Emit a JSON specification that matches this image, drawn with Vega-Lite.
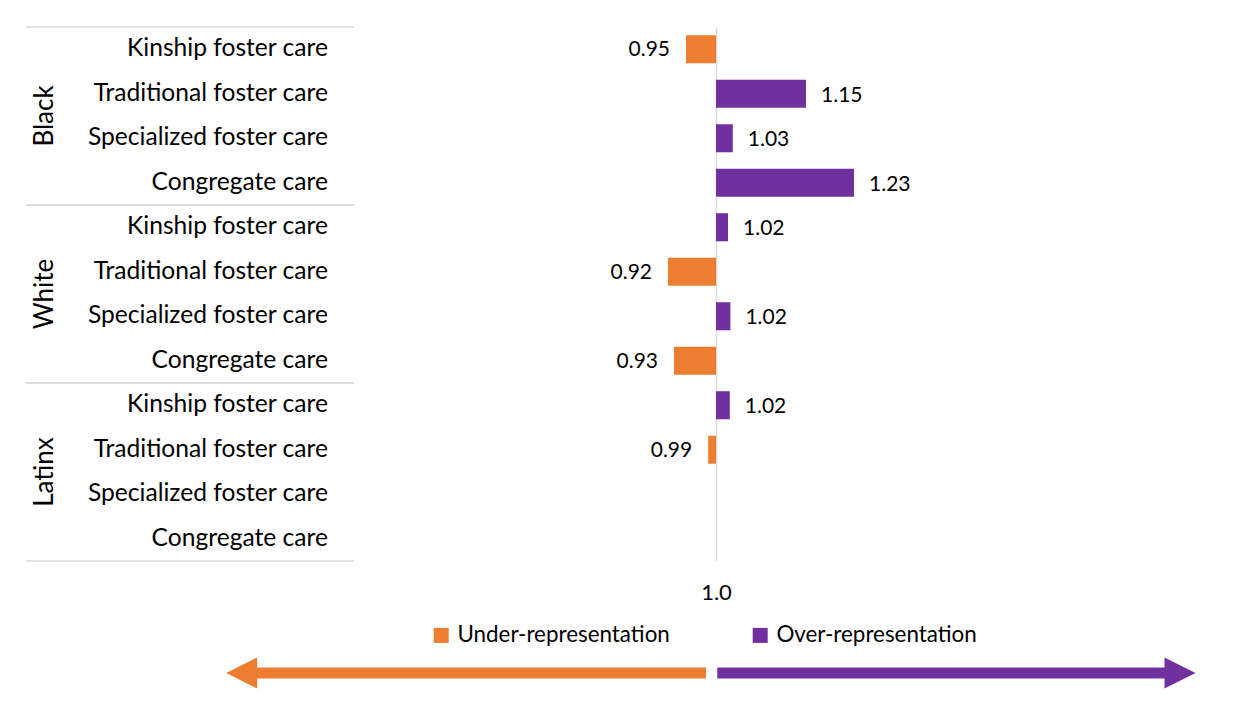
{
  "$schema": "https://vega.github.io/schema/vega-lite/v6.json",
  "padding": {"top": 26, "left": 0, "right": 0, "bottom": 0},
  "background": "white",
  "bounds": "flush",
  "spacing": 92,
  "config": {
    "view": {"stroke": null},
    "font": "Lato"
  },
  "resolve": {"scale": {"color": "shared"}, "legend": {"color": "shared"}},
  "datasets": {
    "rows": [
      {"group": "Black", "category": "Kinship foster care", "value": 0.95, "direction": "Under-representation"},
      {"group": "Black", "category": "Traditional foster care", "value": 1.15, "direction": "Over-representation"},
      {"group": "Black", "category": "Specialized foster care", "value": 1.028, "direction": "Over-representation"},
      {"group": "Black", "category": "Congregate care", "value": 1.23, "direction": "Over-representation"},
      {"group": "White", "category": "Kinship foster care", "value": 1.02, "direction": "Over-representation"},
      {"group": "White", "category": "Traditional foster care", "value": 0.92, "direction": "Under-representation"},
      {"group": "White", "category": "Specialized foster care", "value": 1.024, "direction": "Over-representation"},
      {"group": "White", "category": "Congregate care", "value": 0.93, "direction": "Under-representation"},
      {"group": "Latinx", "category": "Kinship foster care", "value": 1.023, "direction": "Over-representation"},
      {"group": "Latinx", "category": "Traditional foster care", "value": 0.987, "direction": "Under-representation"},
      {"group": "Latinx", "category": "Specialized foster care", "value": null, "direction": null},
      {"group": "Latinx", "category": "Congregate care", "value": null, "direction": null}
    ],
    "arrows": [
      {"arrow": "Under-representation"},
      {"arrow": "Over-representation"}
    ]
  },
  "vconcat": [
    {
      "width": 1253,
      "height": 534,
      "data": {"name": "rows"},
      "transform": [{"calculate": "datum.group + '|' + datum.category", "as": "key"}],
      "encoding": {
        "y": {"field": "key", "type": "nominal", "sort": null, "scale": {"paddingInner": 0, "paddingOuter": 0}, "axis": null}
      },
      "layer": [
        {
          "transform": [{"filter": "isValid(datum.value)"}],
          "mark": {"type": "bar", "height": {"band": 0.63}},
          "encoding": {
            "x": {
              "field": "value", "type": "quantitative", "title": null,
              "scale": {"domain": [-0.19333, 1.895], "nice": false, "zero": false},
              "axis": {"values": [1], "format": ".1f", "grid": true, "gridColor": "#d9d9d9", "gridWidth": 1.5, "domain": false, "ticks": false, "tickSize": 0, "labelPadding": 21, "labelFontSize": 22, "labelFont": "Lato", "labelColor": "#000000", "title": null}
            },
            "x2": {"datum": 1},
            "color": {
              "field": "direction", "type": "nominal",
              "scale": {"domain": ["Under-representation", "Over-representation"], "range": ["#ED7D31", "#7030A0"]},
              "legend": {"orient": "none", "legendX": 430, "legendY": 597, "direction": "horizontal", "title": null, "symbolType": "square", "symbolSize": 225, "symbolStrokeWidth": 0, "labelFontSize": 22.4, "labelFont": "Lato", "labelColor": "#000000", "labelOffset": 5, "labelLimit": 400, "columnPadding": 79}
            }
          }
        },
        {
          "transform": [{"filter": "isValid(datum.value) && datum.value < 1"}],
          "mark": {"type": "text", "align": "right", "baseline": "middle", "dx": -16, "dy": 1, "fontSize": 21, "color": "#000000"},
          "encoding": {
            "x": {"field": "value", "type": "quantitative"},
            "text": {"field": "value", "type": "quantitative", "format": ".2f"}
          }
        },
        {
          "transform": [{"filter": "isValid(datum.value) && datum.value >= 1"}],
          "mark": {"type": "text", "align": "left", "baseline": "middle", "dx": 15, "dy": 2, "fontSize": 21, "color": "#000000"},
          "encoding": {
            "x": {"field": "value", "type": "quantitative"},
            "text": {"field": "value", "type": "quantitative", "format": ".2f"}
          }
        },
        {
          "mark": {"type": "text", "align": "right", "baseline": "middle", "fontSize": 24.6, "color": "#000000"},
          "encoding": {
            "x": {"datum": 0.35333},
            "text": {"field": "category"}
          }
        },
        {
          "transform": [{"filter": "datum.category == 'Traditional foster care'"}],
          "mark": {"type": "text", "align": "center", "baseline": "middle", "angle": 270, "fontSize": 26, "color": "#000000"},
          "encoding": {
            "x": {"datum": -0.11833},
            "y": {"field": "key", "type": "nominal", "sort": null, "bandPosition": 1},
            "text": {"field": "group"}
          }
        },
        {
          "transform": [{"filter": "datum.category == 'Kinship foster care'"}],
          "mark": {"type": "rule", "color": "#d9d9d9", "strokeWidth": 1.5},
          "encoding": {
            "x": {"datum": -0.15},
            "x2": {"datum": 0.39667},
            "y": {"field": "key", "type": "nominal", "sort": null, "bandPosition": 0}
          }
        },
        {
          "transform": [{"filter": "datum.category == 'Congregate care'"}],
          "mark": {"type": "rule", "color": "#d9d9d9", "strokeWidth": 1.5},
          "encoding": {
            "x": {"datum": -0.15},
            "x2": {"datum": 0.39667},
            "y": {"field": "key", "type": "nominal", "sort": null, "bandPosition": 1}
          }
        }
      ]
    },
    {
      "width": 1253,
      "height": 40,
      "data": {"name": "arrows"},
      "layer": [
        {
          "transform": [{"filter": "datum.arrow == 'Under-representation'"}],
          "mark": {"type": "rule", "strokeWidth": 11, "strokeCap": "butt"},
          "encoding": {
            "x": {"datum": 0.2095, "scale": {"domain": [-0.19333, 1.895], "nice": false, "zero": false}, "axis": null},
            "x2": {"datum": 0.98333},
            "color": {"field": "arrow", "type": "nominal"}
          }
        },
        {
          "transform": [{"filter": "datum.arrow == 'Under-representation'"}],
          "mark": {"type": "point", "shape": "M-1,0L1,-1L1,1Z", "size": 961, "filled": true, "opacity": 1},
          "encoding": {
            "x": {"datum": 0.2095, "axis": null},
            "color": {"field": "arrow", "type": "nominal"}
          }
        },
        {
          "transform": [{"filter": "datum.arrow == 'Over-representation'"}],
          "mark": {"type": "rule", "strokeWidth": 11, "strokeCap": "butt"},
          "encoding": {
            "x": {"datum": 1.00217, "axis": null},
            "x2": {"datum": 1.77333},
            "color": {"field": "arrow", "type": "nominal"}
          }
        },
        {
          "transform": [{"filter": "datum.arrow == 'Over-representation'"}],
          "mark": {"type": "point", "shape": "M1,0L-1,-1L-1,1Z", "size": 961, "filled": true, "opacity": 1},
          "encoding": {
            "x": {"datum": 1.77333, "axis": null},
            "color": {"field": "arrow", "type": "nominal"}
          }
        }
      ]
    }
  ]
}
